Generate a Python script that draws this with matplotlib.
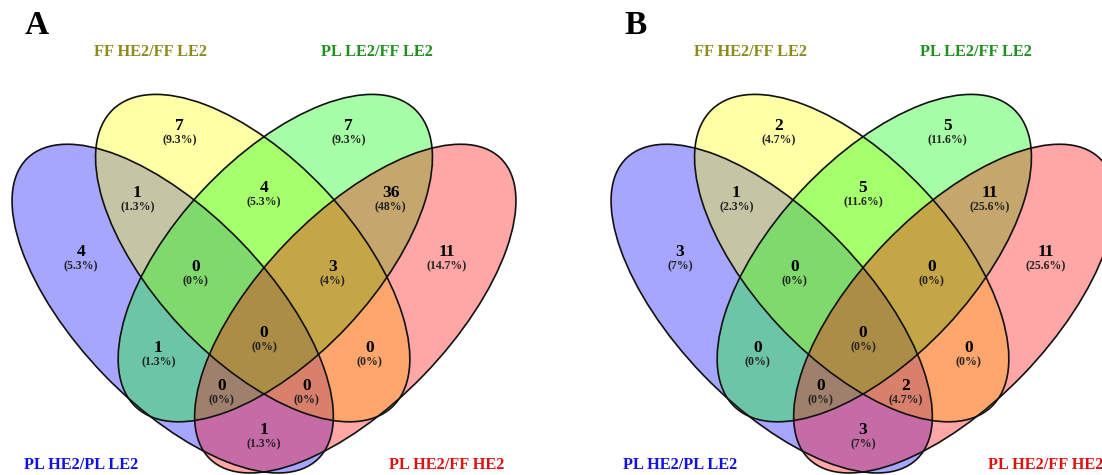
import matplotlib
matplotlib.use("Agg")
import matplotlib.pyplot as plt
from matplotlib.patches import Ellipse

# set names, in drawing order: blue, yellow, green, red
SETS = ["PL HE2/PL LE2", "FF HE2/FF LE2", "PL LE2/FF LE2", "PL HE2/FF HE2"]
FILLS = ["#0000ff", "#ffff00", "#00ff00", "#ff0000"]
LABEL_COLORS = ["#1010e8", "#8c8a1c", "#1f8f1f", "#e01010"]

# region keys: B=PL HE2/PL LE2, Y=FF HE2/FF LE2, G=PL LE2/FF LE2, R=PL HE2/FF HE2
REGIONS = ["Y", "G", "BY", "YG", "GR", "B", "R", "BYG", "YGR",
           "BYGR", "BG", "YR", "BGR", "BYR", "BR"]
COUNTS_A = [7, 7, 1, 4, 36, 4, 11, 0, 3, 0, 1, 0, 0, 0, 1]
COUNTS_B = [2, 5, 1, 5, 11, 3, 11, 0, 0, 0, 0, 0, 0, 2, 3]
PANELS = ["A", "B"]

# layout in pixels (figure is 1102 x 475, y grows downward)
AXIS_X = 264          # symmetry axis of panel A
PANEL_SHIFT = 599     # panel B is panel A moved right
# left-hand ellipses of panel A: offset of centre from axis, cy, width, height, angle
OUTER = (-91.3, 308.6, 418.2, 190.8, 46.0)
INNER = (-11.3, 258.1, 408.0, 198.8, 46.9)

# label spot of each region: (offset from axis, y of the count)
REGION_POS = {
    "Y": (-84.5, 126), "G": (84.5, 126),
    "BY": (-126.7, 193), "YG": (0, 188), "GR": (126.7, 193),
    "B": (-183, 252), "R": (183, 252),
    "BYG": (-68.6, 267), "YGR": (68.6, 267),
    "BYGR": (0, 333),
    "BG": (-105.6, 348), "YR": (105.6, 348),
    "BGR": (-42.2, 386.5), "BYR": (42.2, 386.5),
    "BR": (0, 430),
}
SET_LABEL_POS = [(-183, 465), (-113, 51.5), (112.6, 51.5), (183, 465)]

SERIF = ["Liberation Serif", "DejaVu Serif"]


def ellipses(axis_x):
    dx, cy, w, h, ang = OUTER
    idx, icy, iw, ih, iang = INNER
    return [
        (axis_x + dx, cy, w, h, ang),
        (axis_x + idx, icy, iw, ih, iang),
        (axis_x - idx, icy, iw, ih, 180 - iang),
        (axis_x - dx, cy, w, h, 180 - ang),
    ]


def draw_panel(ax, axis_x, letter, counts):
    shapes = ellipses(axis_x)
    for (cx, cy, w, h, ang), col in zip(shapes, FILLS):
        ax.add_patch(Ellipse((cx, cy), w, h, angle=ang, facecolor=col,
                             edgecolor="none", alpha=0.35, zorder=1))
    for cx, cy, w, h, ang in shapes:
        ax.add_patch(Ellipse((cx, cy), w, h, angle=ang, facecolor="none",
                             edgecolor="#111111", linewidth=1.2, zorder=2))

    total = sum(counts)
    for key, n in zip(REGIONS, counts):
        dx, y = REGION_POS[key]
        pct = round(100.0 * n / total, 1)
        ax.text(axis_x + dx, y, str(n), ha="center", va="center",
                fontsize=12.5, fontweight="bold", family=SERIF, zorder=3)
        ax.text(axis_x + dx, y + 14, f"({pct:g}%)", ha="center", va="center",
                fontsize=8.5, fontweight="bold", family=SERIF, color="#222222",
                zorder=3)

    for name, col, (dx, y) in zip(SETS, LABEL_COLORS, SET_LABEL_POS):
        ax.text(axis_x + dx, y, name, ha="center", va="center", fontsize=11.8,
                fontweight="bold", family=SERIF, color=col, zorder=3)

    ax.text(axis_x - 227, 26, letter, ha="center", va="center", fontsize=24,
            fontweight="bold", family=SERIF, color="black", zorder=3)


fig = plt.figure(figsize=(11.02, 4.75), dpi=100, facecolor="white")
ax = fig.add_axes((0, 0, 1, 1))
ax.set_xlim(0, 1102)
ax.set_ylim(475, 0)
ax.set_axis_off()

for i, (letter, counts) in enumerate(zip(PANELS, [COUNTS_A, COUNTS_B])):
    draw_panel(ax, AXIS_X + i * PANEL_SHIFT, letter, counts)

fig.savefig("out.png", dpi=100, facecolor="white")
